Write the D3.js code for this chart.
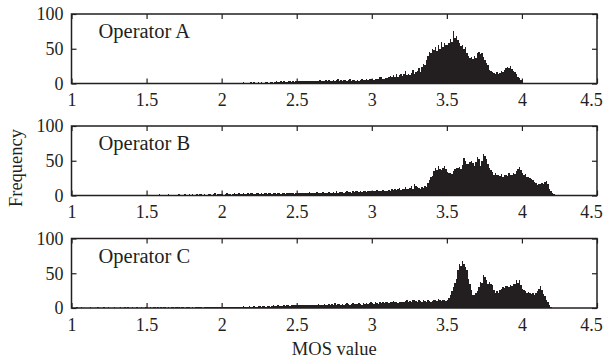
<!DOCTYPE html>
<html>
<head>
<meta charset="utf-8">
<script src="https://cdn.jsdelivr.net/npm/d3@7"></script>
<style>
  body { margin: 0; background: #fff; }
  svg { display: block; }
</style>
</head>
<body>
<script>
const operators = ['Operator A', 'Operator B', 'Operator C']
const xTicks = [1, 1.5, 2, 2.5, 3, 3.5, 4, 4.5]
const yTicks = [0, 50, 100]

// histogram bins, 0.01 wide, first bin starts at MOS 1.00 (one row = 0.1)
const binStart = 1.0
const binWidth = 0.01

const countsA = [
  0,0,0,0,1,0,0,0,0,0,  0,0,0,1,0,0,0,0,0,0,  0,0,0,0,0,0,1,0,0,0,  0,0,1,0,0,0,0,0,1,0,
  0,0,0,0,1,0,0,0,0,0,  0,1,0,0,0,1,0,0,1,0,  0,0,1,0,0,0,1,0,0,1,  0,1,0,0,1,0,0,1,0,0,
  1,0,0,1,0,1,0,0,1,0,  0,1,1,0,1,0,1,0,1,1,  1,0,1,1,0,1,1,0,1,1,  1,1,0,1,2,1,1,0,1,2,
  1,2,1,1,2,1,2,1,1,2,  2,1,2,2,1,2,3,2,2,3,  2,3,2,2,3,3,2,3,2,3,  3,4,3,3,4,3,3,4,4,3,
  4,3,4,3,4,5,3,4,4,5,  4,5,4,4,5,4,5,6,4,5,  4,5,5,4,5,6,4,5,5,4,  5,4,5,6,5,5,6,5,6,7,
  6,5,7,6,7,9,10,7,6,8,  8,9,11,9,12,10,13,10,12,14,  11,13,18,12,14,12,15,19,13,16,
  18,22,17,24,28,26,34,40,46,44,  50,48,52,47,55,50,60,52,58,56,
  55,58,64,60,76,66,68,62,58,54,  56,50,52,44,40,36,38,35,40,37,
  44,46,42,44,38,34,30,26,20,18,  17,15,14,16,13,15,18,16,20,22,
  24,22,25,21,18,16,14,10,8,5,  3,1,0
]

const countsB = [
  0,0,1,0,0,0,0,1,0,0,  0,1,0,0,0,1,0,0,1,0,  0,0,1,0,1,0,0,1,0,1,  1,0,0,1,0,1,0,1,1,0,
  0,1,1,0,1,0,1,1,0,1,  1,1,0,1,1,1,0,1,2,1,  1,0,1,1,2,1,1,0,1,1,  1,2,1,1,1,2,1,1,2,1,
  2,1,1,2,1,2,2,1,2,1,  1,2,2,1,2,3,1,2,2,2,  2,1,2,3,2,2,1,2,3,2,  2,3,2,2,3,2,2,3,2,3,
  3,2,2,3,3,2,3,2,3,3,  2,3,3,2,3,4,2,3,3,2,  3,3,2,4,3,3,4,3,2,3,  3,4,3,3,4,4,3,4,5,3,
  4,3,4,5,3,4,4,5,4,4,  4,5,4,4,5,4,6,4,5,5,  5,4,5,6,5,5,4,6,5,6,  6,5,6,5,7,6,5,7,6,7,
  6,7,6,8,7,6,7,8,7,6,  7,8,7,9,8,10,8,9,11,8,  9,10,12,9,10,11,13,9,16,14,
  12,11,10,12,11,13,12,18,22,26,  28,35,40,36,42,38,36,40,42,38,
  34,32,33,31,35,38,40,39,41,38,  44,54,50,46,45,48,50,47,43,48,
  56,52,42,50,59,57,52,45,40,36,  34,30,32,29,30,28,31,27,29,30,
  28,32,30,29,33,31,35,38,41,37,  33,29,31,27,26,25,24,22,20,18,
  15,17,16,18,17,19,21,16,10,7,  4,2,0
]

const countsC = [
  0,0,0,1,0,0,1,0,0,0,  0,0,1,0,0,0,0,1,0,0,  0,1,0,0,1,0,0,0,1,0,  0,0,1,0,0,1,0,1,0,0,
  1,0,0,1,0,0,1,0,0,1,  1,0,1,0,1,1,0,1,0,1,  0,1,1,0,1,0,1,1,0,1,  1,1,0,1,1,0,1,1,1,0,
  1,0,1,1,1,2,1,0,1,1,  1,1,2,1,1,1,2,1,1,2,  2,1,1,2,1,2,2,1,2,2,  2,2,1,2,3,2,2,2,3,2,
  2,3,2,2,3,3,2,3,3,2,  3,3,2,3,4,3,3,4,3,3,  3,4,3,4,4,3,4,5,4,4,  4,5,4,4,5,4,5,5,4,5,
  5,4,5,5,6,5,4,5,6,5,  5,6,5,6,5,7,5,6,6,5,  6,5,6,7,6,5,6,7,6,6,  6,7,6,5,7,6,7,6,7,8,
  7,6,8,7,6,8,7,9,7,8,  8,7,9,8,10,9,8,7,9,8,  9,8,10,11,9,10,8,12,11,10,
  9,11,10,8,12,10,9,11,10,9,  10,11,12,10,13,11,10,12,11,10,
  12,14,18,24,30,36,42,55,64,60,  68,63,59,55,42,34,26,19,18,21,
  24,30,38,36,48,44,40,35,37,34,  33,26,21,24,22,26,28,30,29,31,
  32,30,33,31,35,34,40,36,41,33,  28,26,24,22,23,21,20,22,19,21,
  24,28,31,26,20,17,12,9,5,2,  0
]

const allCounts = [countsA, countsB, countsC]

const width = 608
const height = 362
const margin = {left: 71.5, right: 11}
const panelTops = [14, 126, 238.5]
const panelHeight = 69.5
const ink = '#231f20'
const font = "'Liberation Serif', 'Times New Roman', serif"

const svg = d3.select('body').append('svg')
  .attr('width', width)
  .attr('height', height)
  .attr('viewBox', `0 0 ${width} ${height}`)
  .style('font-family', font)

const x = d3.scaleLinear()
  .domain([1, 4.5])
  .range([margin.left, width - margin.right])

function panel(counts, name, top) {
  const y = d3.scaleLinear()
    .domain([0, 100])
    .range([top + panelHeight, top])

  const bins = counts.map((c, i) => ({x0: binStart + i * binWidth, c}))

  const g = svg.append('g')

  g.append('g')
    .attr('shape-rendering', 'crispEdges')
    .selectAll('rect')
    .data(bins.filter(b => b.c > 0))
    .join('rect')
      .attr('x', b => x(b.x0))
      .attr('width', b => x(b.x0 + binWidth) - x(b.x0))
      .attr('y', b => y(b.c))
      .attr('height', b => y(0) - y(b.c))
      .attr('fill', ink)

  // box with inward ticks on all four sides
  const tick = 5
  g.append('g')
    .attr('transform', `translate(0,${y(0)})`)
    .call(d3.axisBottom(x).tickValues(xTicks).tickSize(-tick).tickPadding(tick + 5).tickFormat(d3.format('')))
    .call(a => a.select('.domain').remove())
    .call(a => a.selectAll('.tick text').filter(d => d === 4.5).attr('dx', -6))
  g.append('g')
    .attr('transform', `translate(0,${y(100)})`)
    .call(d3.axisTop(x).tickValues(xTicks).tickSize(-tick).tickFormat(''))
    .call(a => a.select('.domain').remove())
  g.append('g')
    .attr('transform', `translate(${x(1)},0)`)
    .call(d3.axisLeft(y).tickValues(yTicks).tickSize(-tick).tickPadding(tick + 3))
    .call(a => a.select('.domain').remove())
  g.append('g')
    .attr('transform', `translate(${x(4.5)},0)`)
    .call(d3.axisRight(y).tickValues(yTicks).tickSize(-tick).tickFormat(''))
    .call(a => a.select('.domain').remove())

  g.selectAll('.tick line').attr('stroke', ink).attr('stroke-width', 1.2)
  g.selectAll('.tick text')
    .attr('fill', ink)
    .attr('font-size', 18)
    .attr('font-family', font)

  g.append('rect')
    .attr('x', x(1))
    .attr('y', y(100))
    .attr('width', x(4.5) - x(1))
    .attr('height', y(0) - y(100))
    .attr('fill', 'none')
    .attr('stroke', ink)
    .attr('stroke-width', 1.5)

  g.append('text')
    .attr('x', x(1.18))
    .attr('y', y(100) + 24)
    .attr('font-size', 20.5)
    .attr('fill', ink)
    .text(name)
}

allCounts.forEach((counts, i) => panel(counts, operators[i], panelTops[i]))

svg.append('text')
  .attr('transform', `translate(22,168) rotate(-90)`)
  .attr('text-anchor', 'middle')
  .attr('font-size', 18.5)
  .attr('fill', ink)
  .text('Frequency')

svg.append('text')
  .attr('x', x(2.75))
  .attr('y', 355)
  .attr('text-anchor', 'middle')
  .attr('font-size', 18.5)
  .attr('fill', ink)
  .text('MOS value')
</script>
</body>
</html>
